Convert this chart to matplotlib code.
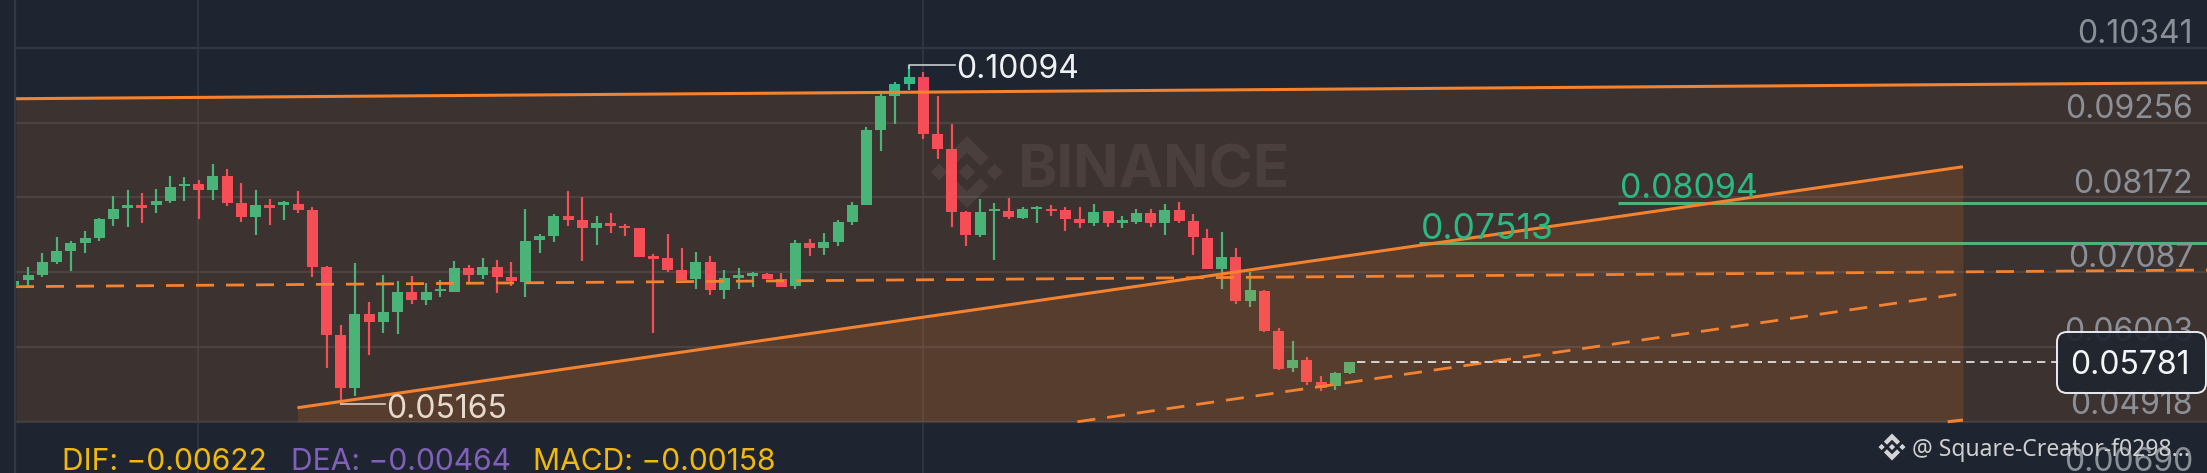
import numpy as np
import matplotlib
matplotlib.use("Agg")
import matplotlib.pyplot as plt
from matplotlib.patches import FancyBboxPatch, Polygon, Rectangle
from matplotlib.transforms import Affine2D

W, H = 2207, 473

opens = [0.06897, 0.06974, 0.07047, 0.07235, 0.07395, 0.07511, 0.07588, 0.07859, 0.08014, 0.08063,
         0.08058, 0.08116, 0.08334, 0.08367, 0.08285, 0.08488, 0.08087, 0.07888, 0.08063, 0.08067,
         0.08082, 0.07985, 0.07158, 0.06176, 0.05402, 0.06481, 0.06360, 0.06510, 0.06800, 0.06684,
         0.06810, 0.06805, 0.07148, 0.07047, 0.07168, 0.07022, 0.06950, 0.07550, 0.07613, 0.07903,
         0.07845, 0.07729, 0.07797, 0.07758, 0.07724, 0.07322, 0.07289, 0.07119, 0.06984, 0.07230,
         0.06829, 0.07003, 0.07037, 0.07056, 0.06989, 0.06892, 0.07511, 0.07434, 0.07530, 0.07811,
         0.08067, 0.09151, 0.09649, 0.09824, 0.09920, 0.09088, 0.08871, 0.07956, 0.07627, 0.07971,
         0.07976, 0.07874, 0.08005, 0.08009, 0.07985, 0.07855, 0.07797, 0.07971, 0.07806, 0.07811,
         0.07942, 0.07801, 0.07990, 0.07830, 0.07588, 0.07134, 0.07303, 0.06674, 0.06819, 0.06234,
         0.05692, 0.05813, 0.05494, 0.05440, 0.05629]
closes = [0.06964, 0.07047, 0.07235, 0.07395, 0.07511, 0.07588, 0.07859, 0.08009, 0.08063, 0.08024,
          0.08116, 0.08324, 0.08367, 0.08285, 0.08488, 0.08096, 0.07888, 0.08063, 0.08024, 0.08106,
          0.07985, 0.07163, 0.06176, 0.05402, 0.06481, 0.06360, 0.06505, 0.06805, 0.06684, 0.06800,
          0.06843, 0.07143, 0.07051, 0.07168, 0.07022, 0.06955, 0.07545, 0.07608, 0.07903, 0.07845,
          0.07729, 0.07806, 0.07763, 0.07724, 0.07313, 0.07284, 0.07124, 0.06979, 0.07230, 0.06829,
          0.06998, 0.07042, 0.07071, 0.06993, 0.06877, 0.07511, 0.07439, 0.07526, 0.07811, 0.08067,
          0.09151, 0.09645, 0.09819, 0.09920, 0.09093, 0.08875, 0.07961, 0.07627, 0.07961, 0.08009,
          0.07884, 0.08000, 0.08038, 0.07971, 0.07864, 0.07806, 0.07966, 0.07806, 0.07840, 0.07942,
          0.07801, 0.07995, 0.07830, 0.07593, 0.07134, 0.07303, 0.06674, 0.06824, 0.06234, 0.05687,
          0.05813, 0.05494, 0.05411, 0.05629, 0.05779]
highs = [0.06974, 0.07168, 0.07371, 0.07593, 0.07535, 0.07690, 0.07869, 0.08198, 0.08280, 0.08242,
         0.08300, 0.08484, 0.08464, 0.08425, 0.08653, 0.08580, 0.08377, 0.08280, 0.08155, 0.08116,
         0.08266, 0.08029, 0.07177, 0.06321, 0.07216, 0.06660, 0.07051, 0.06960, 0.07027, 0.06935,
         0.06969, 0.07245, 0.07192, 0.07298, 0.07260, 0.07230, 0.08000, 0.07637, 0.07932, 0.08266,
         0.08174, 0.07898, 0.07942, 0.07792, 0.07724, 0.07356, 0.07647, 0.07434, 0.07376, 0.07318,
         0.07124, 0.07143, 0.07095, 0.07071, 0.07071, 0.07555, 0.07569, 0.07651, 0.07845, 0.08106,
         0.09200, 0.09674, 0.09848, 0.10094, 0.09988, 0.09645, 0.09233, 0.07976, 0.08150, 0.08087,
         0.08164, 0.08034, 0.08043, 0.08058, 0.08034, 0.08029, 0.08072, 0.07976, 0.07903, 0.08000,
         0.08000, 0.08072, 0.08101, 0.07927, 0.07709, 0.07666, 0.07434, 0.07095, 0.06824, 0.06282,
         0.06084, 0.05861, 0.05581, 0.05634, 0.05789]
lows = [0.06877, 0.06877, 0.07022, 0.07206, 0.07110, 0.07371, 0.07545, 0.07758, 0.07748, 0.07806,
        0.07951, 0.08096, 0.08116, 0.07855, 0.08135, 0.08053, 0.07821, 0.07627, 0.07767, 0.07845,
        0.07951, 0.07022, 0.05702, 0.05165, 0.05295, 0.05890, 0.06210, 0.06185, 0.06626, 0.06616,
        0.06727, 0.06800, 0.06935, 0.06989, 0.06790, 0.06892, 0.06732, 0.07371, 0.07530, 0.07763,
        0.07250, 0.07477, 0.07661, 0.07608, 0.07303, 0.06210, 0.07090, 0.06974, 0.06848, 0.06756,
        0.06698, 0.06848, 0.06877, 0.06984, 0.06868, 0.06839, 0.07318, 0.07342, 0.07468, 0.07772,
        0.08063, 0.08851, 0.09233, 0.09727, 0.09016, 0.08735, 0.07748, 0.07472, 0.07603, 0.07264,
        0.07864, 0.07855, 0.07806, 0.07903, 0.07690, 0.07729, 0.07758, 0.07738, 0.07734, 0.07782,
        0.07748, 0.07627, 0.07797, 0.07342, 0.07129, 0.06839, 0.06631, 0.06587, 0.06215, 0.05668,
        0.05639, 0.05455, 0.05368, 0.05382, 0.05615]

# price axis labels and where they sit
grid_prices = [0.10341, 0.09256, 0.08172, 0.07087, 0.06003, 0.04918]
extra_label = "0.00690"
last_price = 0.05781
level_prices = [0.07513, 0.08094]
level_starts = [98.9, 112.9]

# channel lines, candle index / price
top_x, top_y = [0.14, 154.35], [0.09605, 0.09837]
mid_x, mid_y = [0.14, 154.35], [0.06877, 0.07119]
rise_x, rise_y = [19.95, 137.17], [0.05120, 0.08618]
low_x, low_y = [74.85, 136.75], [0.04917, 0.06766]
edge_x, edge_y = [136.1, 137.17], [0.04917, 0.04942]
panel_floor = 0.04918

BG = "#1e2530"
ORANGE = "#f5822e"
GREEN = "#2ebd85"
RED = "#f6465d"
GRID = "#303846"
LABEL = "#8b8f97"
YELLOW = "#f0b90b"
PURPLE = "#8060b8"

plt.rcParams["font.family"] = ["Inter", "DejaVu Sans"]

fig = plt.figure(figsize=(W / 100, H / 100), dpi=100, facecolor=BG)
ax = fig.add_axes([0, 0, 1, 1], facecolor=BG)
ax.set_xlim(-0.985, 154.35)
ax.set_ylim(0.04173, 0.11038)
ax.axis("off")

# image pixels, y going down
tp = Affine2D().scale(1, -1).translate(0, H)

x = np.arange(len(opens))
opens, closes, highs, lows = map(np.array, (opens, closes, highs, lows))
colors = [GREEN if c >= o else RED for o, c in zip(opens, closes)]

# grid
for p in grid_prices:
    ax.axhline(p, color=GRID, lw=1.6, zorder=1)
for px_x in (198, 923):
    ax.plot([px_x, px_x], [0, H], color=GRID, lw=1.2, transform=tp, zorder=1)

# watermark
ax.text(1017, 172, "BINANCE", transform=tp, color="#ffffff", alpha=0.075, fontsize=43,
        fontweight="bold", va="center", ha="left", zorder=1)


def logo(cx, cy, r, color, alpha, z):
    small = 0.23
    for dx, dy in ((0, 0), (-0.77, 0), (0.77, 0)):
        pts = [(dx, dy - small), (dx + small, dy), (dx, dy + small), (dx - small, dy)]
        ax.add_patch(Polygon([(cx + a * r, cy + b * r) for a, b in pts], transform=tp,
                             fc=color, ec="none", alpha=alpha, zorder=z))
    chevron = [(0, -1), (0.6, -0.4), (0.37, -0.17), (0, -0.54), (-0.37, -0.17), (-0.6, -0.4)]
    for sign in (1, -1):
        ax.add_patch(Polygon([(cx + a * r, cy + sign * b * r) for a, b in chevron], transform=tp,
                             fc=color, ec="none", alpha=alpha, zorder=z))


logo(967, 172, 36, "#ffffff", 0.075, 1)

# candles, under the orange shading
ax.vlines(x, lows, highs, colors=colors, lw=1.6, zorder=2)
ax.bar(x, np.abs(closes - opens), bottom=np.minimum(opens, closes), width=0.774, color=colors,
       linewidth=0, zorder=2)

# target levels
for p, s in zip(level_prices, level_starts):
    ax.plot([s, 154.35], [p, p], color=GREEN, lw=2.2, solid_capstyle="butt", zorder=2.5)

# channel shading
ax.fill_between(top_x, panel_floor, top_y, color=ORANGE, alpha=0.14, lw=0, zorder=3)
ax.fill_between(rise_x, panel_floor, rise_y, color=ORANGE, alpha=0.15, lw=0, zorder=3)

# channel lines
ax.plot(top_x, top_y, color=ORANGE, lw=2.2, solid_capstyle="butt", zorder=4)
ax.plot(rise_x, rise_y, color=ORANGE, lw=2.2, solid_capstyle="butt", zorder=4)
ax.plot(edge_x, edge_y, color=ORANGE, lw=2.2, solid_capstyle="butt", zorder=4)
ax.plot(mid_x, mid_y, color=ORANGE, lw=2.0, ls=(0, (6.5, 4.3)), zorder=4)
ax.plot(low_x, low_y, color=ORANGE, lw=2.0, ls=(0, (6.5, 4.3)), zorder=4)

# last price line
ax.plot([94.5, 143.9], [last_price, last_price], color="#eaecef", lw=1.2, ls=(0, (5, 3.5)), zorder=4)

# left strip, cuts the first candle
ax.add_patch(Rectangle((0, 0), 15, H, transform=tp, fc=BG, ec="none", zorder=5))
ax.plot([15, 15], [0, H], color=GRID, lw=1.6, transform=tp, zorder=5)

# axis labels
label_y = [31, 106, 181, 255, 329, 402]
for p, py in zip(grid_prices, label_y):
    ax.text(2193, py, f"{p:.5f}", transform=tp, color=LABEL, fontsize=23, ha="right",
            va="center_baseline", zorder=6)
ax.text(2193, 459, extra_label, transform=tp, color=LABEL, fontsize=23, ha="right",
        va="center_baseline", zorder=6)

# last price box
ax.add_patch(FancyBboxPatch((2057, 332), 149, 61, boxstyle="round,pad=0,rounding_size=10",
                            transform=tp, fc=(30 / 255, 37 / 255, 48 / 255, 0.9), ec="#eaecef",
                            lw=1.4, zorder=7))
ax.text(2190, 362, f"{last_price:.5f}", transform=tp, color="#f4f5f6", fontsize=23, ha="right",
        va="center_baseline", zorder=8)

# high / low markers
ax.plot([909, 909, 955], [68, 65, 65], color="#c8cacd", lw=1.2, transform=tp, zorder=6)
ax.text(956, 66, "0.10094", transform=tp, color="#eef0f2", fontsize=23, ha="left",
        va="center_baseline", zorder=6)
ax.plot([341, 385], [404, 404], color="#d8cfc8", lw=1.2, transform=tp, zorder=6)
ax.text(386, 406, "0.05165", transform=tp, color="#e6d9cd", fontsize=23, ha="left",
        va="center_baseline", zorder=6)

# target labels
ax.text(1421, 226, "0.07513", transform=tp, color="#2ab883", fontsize=25.5, ha="left",
        va="center_baseline", zorder=6)
ax.text(1620, 185, "0.08094", transform=tp, color="#2ab883", fontsize=24.5, ha="left",
        va="center_baseline", zorder=6)

# MACD row
ax.text(62, 459, "DIF: \u22120.00622", transform=tp, color=YELLOW, fontsize=21.6, ha="left",
        va="center_baseline", zorder=6)
ax.text(291, 459, "DEA: \u22120.00464", transform=tp, color=PURPLE, fontsize=21.6, ha="left",
        va="center_baseline", zorder=6)
ax.text(533, 459, "MACD: \u22120.00158", transform=tp, color=YELLOW, fontsize=21.6, ha="left",
        va="center_baseline", zorder=6)

# share stamp
logo(1892, 447, 13.5, "#d4d4d4", 1.0, 9)
ax.text(1912, 447, "@ Square-Creator-f0298...", transform=tp, color="#cfcfcf", fontsize=16.5,
        family="Noto Sans", ha="left", va="center_baseline", zorder=9)

fig.savefig("out.png", dpi=100, facecolor=BG)
